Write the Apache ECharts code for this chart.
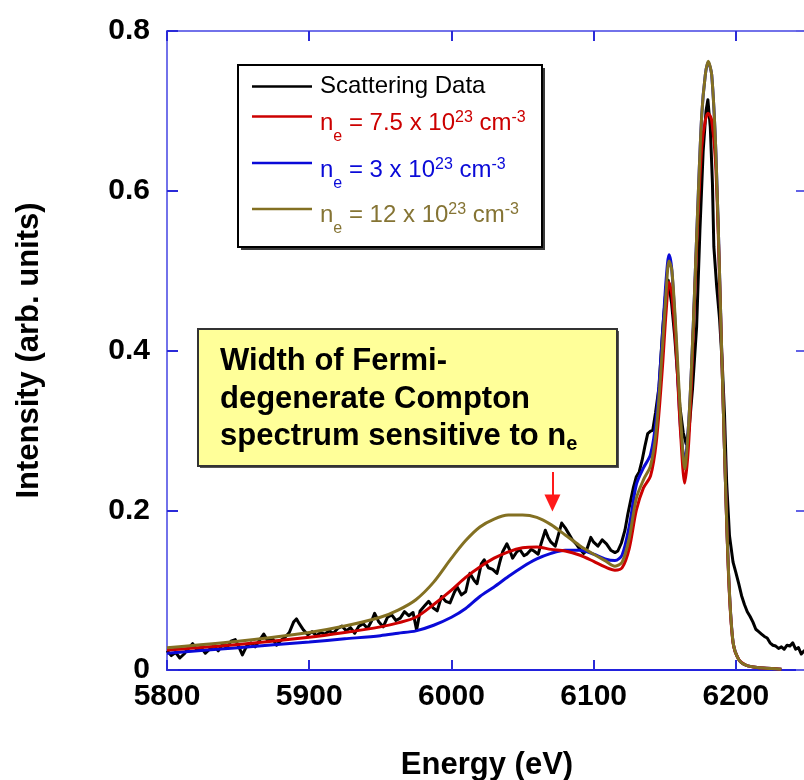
<!DOCTYPE html>
<html>
<head>
<meta charset="utf-8">
<script src="https://cdn.jsdelivr.net/npm/echarts@6/dist/echarts.min.js"></script>
<style>
  html, body { margin: 0; padding: 0; background: #ffffff; }
  #chart { width: 804px; height: 780px; }
</style>
</head>
<body>
<div id="chart"></div>
<script>
// Energy grid (eV) shared by the three model spectra
const modelEnergy = [5800, 5850, 5900, 5925, 5950, 5962.5, 5975, 5987.5, 6000, 6010,
  6020, 6030, 6040, 6050, 6060, 6070, 6080, 6090, 6100, 6108,
  6115, 6120, 6125, 6130, 6135, 6140, 6144, 6148, 6151, 6153,
  6155, 6158, 6161, 6164, 6167, 6170, 6173, 6176, 6178.5, 6180.5,
  6183, 6186, 6189, 6192, 6195, 6198, 6202, 6207, 6215, 6225, 6232];

// n_e = 7.5 x 10^23 cm^-3
const fitMid = [0.025, 0.032, 0.041, 0.047, 0.054, 0.059, 0.066, 0.082, 0.100, 0.116,
  0.129, 0.140, 0.148, 0.153, 0.154, 0.151, 0.149, 0.144, 0.136, 0.129,
  0.125, 0.128, 0.152, 0.200, 0.228, 0.243, 0.285, 0.370, 0.450, 0.485,
  0.470, 0.400, 0.300, 0.234, 0.290, 0.420, 0.555, 0.655, 0.688, 0.697,
  0.688, 0.625, 0.460, 0.275, 0.112, 0.034, 0.013, 0.006, 0.003, 0.002, 0.001];

// n_e = 3 x 10^23 cm^-3
const fitLow = [0.021, 0.028, 0.035, 0.039, 0.043, 0.046, 0.049, 0.056, 0.066, 0.077,
  0.092, 0.104, 0.117, 0.129, 0.139, 0.146, 0.150, 0.150, 0.145, 0.139,
  0.137, 0.144, 0.180, 0.232, 0.253, 0.270, 0.315, 0.410, 0.490, 0.520,
  0.500, 0.410, 0.305, 0.262, 0.315, 0.430, 0.570, 0.695, 0.745, 0.761,
  0.745, 0.645, 0.465, 0.275, 0.115, 0.035, 0.013, 0.006, 0.003, 0.002, 0.001];

// n_e = 12 x 10^23 cm^-3
const fitHigh = [0.028, 0.036, 0.047, 0.055, 0.066, 0.075, 0.088, 0.110, 0.140, 0.162,
  0.179, 0.189, 0.194, 0.194, 0.191, 0.182, 0.169, 0.156, 0.145, 0.137,
  0.130, 0.135, 0.165, 0.215, 0.238, 0.256, 0.300, 0.395, 0.475, 0.512,
  0.500, 0.420, 0.320, 0.252, 0.315, 0.430, 0.570, 0.695, 0.745, 0.762,
  0.745, 0.645, 0.465, 0.275, 0.115, 0.035, 0.013, 0.006, 0.003, 0.002, 0.001];

// Measured scattering spectrum
const dataEnergy = [5800, 5803, 5806, 5809, 5812, 5815, 5818, 5821, 5824, 5827,
  5830, 5833, 5836, 5839, 5842, 5845, 5848, 5851, 5853, 5856,
  5859, 5862, 5865, 5868, 5871, 5874, 5877, 5880, 5883, 5886,
  5889, 5891, 5893, 5896, 5899, 5902, 5905, 5908, 5911, 5914,
  5917, 5920, 5923, 5926, 5929, 5932, 5935, 5938, 5941, 5944,
  5946, 5949, 5952, 5955, 5958, 5961, 5964, 5967, 5970, 5973,
  5975.5, 5978, 5981, 5984, 5987, 5990, 5993, 5996, 5999, 6002,
  6004, 6007, 6010, 6013, 6016, 6018, 6021, 6023, 6026, 6029,
  6032, 6034, 6036, 6039, 6041, 6043, 6046, 6048, 6051, 6053,
  6056, 6058, 6061, 6063, 6066, 6068, 6070, 6073, 6075, 6077.5,
  6080, 6082, 6085, 6088, 6090, 6093, 6095, 6098, 6100, 6103,
  6106, 6109, 6112, 6115, 6117, 6119.5, 6122, 6124, 6126, 6128,
  6130, 6132, 6134, 6136, 6138, 6140, 6141.5, 6143.5, 6146, 6148.5,
  6151, 6152.4, 6154.8, 6157, 6158.7, 6160.6, 6163, 6165, 6167, 6169.5,
  6172.4, 6174.7, 6177, 6179, 6180.3, 6182, 6183.5, 6184.5, 6186.5, 6188.5,
  6190.5, 6192, 6193.5, 6195.5, 6198, 6200, 6202, 6204, 6206, 6208,
  6210, 6212, 6214, 6216, 6218, 6220, 6222, 6224, 6226, 6228,
  6230, 6232, 6234, 6236, 6238, 6240, 6242, 6244, 6246, 6248, 6250];

const dataIntensity = [0.024, 0.018, 0.022, 0.015, 0.020, 0.027, 0.033, 0.025, 0.028, 0.021,
  0.026, 0.030, 0.024, 0.032, 0.028, 0.036, 0.038, 0.027, 0.019, 0.030,
  0.034, 0.029, 0.037, 0.045, 0.036, 0.040, 0.031, 0.037, 0.041, 0.047,
  0.060, 0.064, 0.058, 0.050, 0.044, 0.048, 0.043, 0.047, 0.045, 0.049,
  0.046, 0.052, 0.055, 0.049, 0.053, 0.046, 0.055, 0.058, 0.052, 0.062,
  0.071, 0.060, 0.054, 0.066, 0.069, 0.062, 0.065, 0.073, 0.068, 0.072,
  0.050, 0.074, 0.080, 0.086, 0.078, 0.074, 0.092, 0.086, 0.084, 0.097,
  0.104, 0.094, 0.098, 0.121, 0.112, 0.108, 0.133, 0.138, 0.128, 0.126,
  0.121, 0.135, 0.148, 0.158, 0.150, 0.140, 0.148, 0.151, 0.143, 0.145,
  0.151, 0.149, 0.145, 0.158, 0.175, 0.166, 0.160, 0.155, 0.168, 0.184,
  0.178, 0.172, 0.163, 0.157, 0.152, 0.146, 0.150, 0.166, 0.160, 0.155,
  0.163, 0.158, 0.150, 0.147, 0.149, 0.159, 0.175, 0.195, 0.212, 0.229,
  0.242, 0.248, 0.262, 0.280, 0.296, 0.299, 0.300, 0.322, 0.355, 0.426,
  0.480, 0.488, 0.459, 0.417, 0.376, 0.330, 0.297, 0.283, 0.300, 0.352,
  0.430, 0.550, 0.650, 0.700, 0.714, 0.680, 0.610, 0.530, 0.480, 0.440,
  0.380, 0.320, 0.235, 0.168, 0.135, 0.122, 0.108, 0.093, 0.082, 0.073,
  0.067, 0.060, 0.051, 0.048, 0.045, 0.042, 0.040, 0.034, 0.031, 0.030,
  0.027, 0.029, 0.026, 0.031, 0.030, 0.034, 0.026, 0.028, 0.020, 0.024, 0.020];

// Axis ranges and tick spacing
const energyRange = [5800, 6250];
const energyStep = 100;
const intensityRange = [0, 0.8];
const intensityStep = 0.2;

// Annotation arrow (energy, intensity from -> to)
const arrowEnergy = 6071;
const arrowFrom = 0.248;
const arrowTo = 0.209;

const zip = (xs, ys) => xs.map((x, i) => [x, ys[i]]);

const FONT = '"Liberation Sans", Arial, Helvetica, sans-serif';
const COL_DATA = '#000000';
const COL_MID = '#cc0000';
const COL_LOW = '#0a0ad8';
const COL_HIGH = '#837022';
const FRAME = '#7272ea';
const TICK = '#2a2ad8';

const chart = echarts.init(document.getElementById('chart'), null, { renderer: 'canvas' });

const tickLabel = { fontSize: 30, fontWeight: 'bold', fontFamily: FONT, color: '#000' };

const legendRows = [
  { y: 86.5, color: COL_DATA },
  { y: 116.5, color: COL_MID },
  { y: 163, color: COL_LOW },
  { y: 209, color: COL_HIGH }
];

// main text, subscript and superscript pieces of the density labels
function densityRich(color) {
  return {
    m: { fontSize: 24, fontFamily: FONT, fill: color, lineHeight: 44, verticalAlign: 'middle' },
    s: { fontSize: 16, fontFamily: FONT, fill: color, lineHeight: 16, verticalAlign: 'bottom' },
    p: { fontSize: 16, fontFamily: FONT, fill: color, verticalAlign: 'middle', padding: [0, 0, 11, 0] }
  };
}

const legendGraphics = [
  { type: 'rect', shape: { x: 241, y: 68, width: 304, height: 182 }, style: { fill: '#3a3a3a' }, z: 100 },
  { type: 'rect', shape: { x: 238, y: 65, width: 304, height: 182 }, style: { fill: '#ffffff', stroke: '#000', lineWidth: 2 }, z: 101 }
];
legendRows.forEach(r => {
  legendGraphics.push({ type: 'line', shape: { x1: 252, y1: r.y, x2: 312, y2: r.y },
    style: { stroke: r.color, lineWidth: 2.5 }, z: 102 });
});
legendGraphics.push(
  { type: 'text', x: 320, y: 86, z: 102,
    style: { text: 'Scattering Data', font: '24px ' + FONT, fill: COL_DATA, verticalAlign: 'middle', align: 'left' } },
  { type: 'text', x: 320, y: 123, z: 102,
    style: { text: '{m|n}{s|e}{m| = 7.5 x 10}{p|23}{m| cm}{p|-3}', rich: densityRich(COL_MID), verticalAlign: 'middle', align: 'left' } },
  { type: 'text', x: 320, y: 170, z: 102,
    style: { text: '{m|n}{s|e}{m| = 3 x 10}{p|23}{m| cm}{p|-3}', rich: densityRich(COL_LOW), verticalAlign: 'middle', align: 'left' } },
  { type: 'text', x: 320, y: 215, z: 102,
    style: { text: '{m|n}{s|e}{m| = 12 x 10}{p|23}{m| cm}{p|-3}', rich: densityRich('#857434'), verticalAlign: 'middle', align: 'left' } }
);

const noteFont = 'bold 31px ' + FONT;
const noteGraphics = [
  { type: 'rect', shape: { x: 200, y: 331, width: 419, height: 137 }, style: { fill: '#555' }, z: 100 },
  { type: 'rect', shape: { x: 198, y: 329, width: 419, height: 137 }, style: { fill: '#ffff99', stroke: '#333', lineWidth: 2 }, z: 101 },
  { type: 'text', x: 220, y: 361, z: 102, style: { text: 'Width of Fermi-', font: noteFont, fill: '#000', verticalAlign: 'middle' } },
  { type: 'text', x: 220, y: 399, z: 102, style: { text: 'degenerate Compton', font: noteFont, fill: '#000', verticalAlign: 'middle' } },
  { type: 'text', x: 220, y: 436, z: 102,
    style: {
      text: '{m|spectrum sensitive to n}{s|e}',
      rich: {
        m: { fontSize: 31, fontWeight: 'bold', fontFamily: FONT, fill: '#000', lineHeight: 37, verticalAlign: 'middle' },
        s: { fontSize: 20, fontWeight: 'bold', fontFamily: FONT, fill: '#000', lineHeight: 16, verticalAlign: 'bottom' }
      },
      verticalAlign: 'middle'
    } }
];

const plainNumber = v => String(v);

const option = {
  animation: false,
  backgroundColor: '#ffffff',
  grid: { left: 167, top: 31, width: 640, height: 639, containLabel: false, outerBoundsMode: 'none' },
  xAxis: [
    {
      type: 'value', position: 'bottom',
      min: energyRange[0], max: energyRange[1], interval: energyStep,
      name: 'Energy (eV)', nameLocation: 'middle', nameGap: 80,
      nameTextStyle: { fontSize: 31, fontWeight: 'bold', fontFamily: FONT, color: '#000' },
      axisLine: { onZero: false, lineStyle: { color: '#2222dd', width: 2 } },
      axisTick: { inside: true, length: 10, lineStyle: { color: TICK, width: 2 } },
      axisLabel: Object.assign({ margin: 12, showMaxLabel: false, formatter: plainNumber }, tickLabel),
      splitLine: { show: false }
    },
    {
      type: 'value', position: 'top',
      min: energyRange[0], max: energyRange[1], interval: energyStep,
      axisLine: { onZero: false, lineStyle: { color: FRAME, width: 2 } },
      axisTick: { inside: true, length: 10, lineStyle: { color: TICK, width: 2 } },
      axisLabel: { show: false },
      splitLine: { show: false }
    }
  ],
  yAxis: [
    {
      type: 'value', position: 'left',
      min: intensityRange[0], max: intensityRange[1], interval: intensityStep,
      name: 'Intensity (arb. units)', nameLocation: 'middle', nameGap: 122, nameRotate: 90,
      nameTextStyle: { fontSize: 31, fontWeight: 'bold', fontFamily: FONT, color: '#000' },
      axisLine: { onZero: false, lineStyle: { color: FRAME, width: 2 } },
      axisTick: { inside: true, length: 11, lineStyle: { color: TICK, width: 2 } },
      axisLabel: Object.assign({ margin: 17, formatter: plainNumber, padding: [0, 0, 6, 0] }, tickLabel),
      splitLine: { show: false }
    },
    {
      type: 'value', position: 'right',
      min: intensityRange[0], max: intensityRange[1], interval: intensityStep,
      axisLine: { onZero: false, lineStyle: { color: FRAME, width: 2 } },
      axisTick: { inside: true, length: 11, lineStyle: { color: '#6262e6', width: 2 } },
      axisLabel: { show: false },
      splitLine: { show: false }
    }
  ],
  series: [
    {
      name: 'Scattering Data', type: 'line', data: zip(dataEnergy, dataIntensity),
      showSymbol: false, lineStyle: { color: COL_DATA, width: 3, join: 'round' }, z: 2
    },
    {
      name: 'n_e = 3e23', type: 'line', data: zip(modelEnergy, fitLow), smooth: 0.3,
      showSymbol: false, lineStyle: { color: COL_LOW, width: 3 }, z: 3
    },
    {
      name: 'n_e = 7.5e23', type: 'line', data: zip(modelEnergy, fitMid), smooth: 0.3,
      showSymbol: false, lineStyle: { color: COL_MID, width: 3 }, z: 4
    },
    {
      name: 'n_e = 12e23', type: 'line', data: zip(modelEnergy, fitHigh), smooth: 0.3,
      showSymbol: false, lineStyle: { color: COL_HIGH, width: 3 }, z: 5,
      markLine: {
        silent: true, animation: false,
        symbol: ['none', 'triangle'], symbolSize: [16, 17],
        lineStyle: { color: '#ff1a1a', width: 2, type: 'solid' },
        label: { show: false },
        emphasis: { disabled: true },
        data: [[{ coord: [arrowEnergy, arrowFrom] }, { coord: [arrowEnergy, arrowTo] }]]
      }
    }
  ],
  graphic: legendGraphics.concat(noteGraphics)
};

chart.setOption(option);
</script>
</body>
</html>
